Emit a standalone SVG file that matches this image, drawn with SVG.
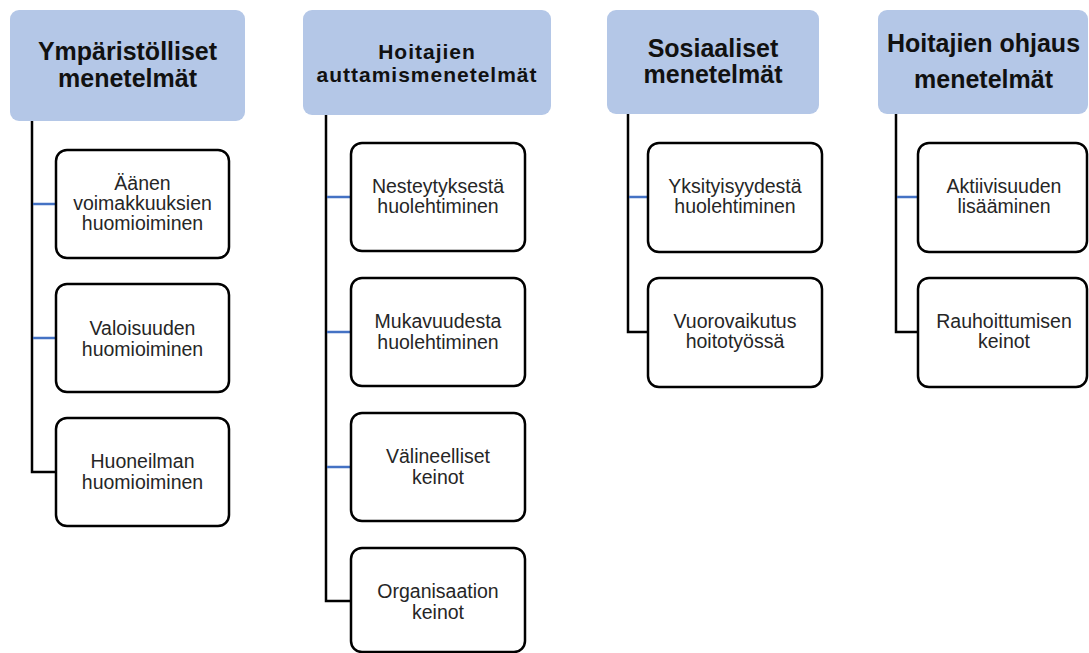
<svg xmlns="http://www.w3.org/2000/svg" width="1089" height="653" viewBox="0 0 1089 653">
<style>
.hdr{fill:#b4c7e7;}
.box{fill:#ffffff;stroke:#000000;stroke-width:2.5;}
.ht{font-family:"Liberation Sans",Arial,sans-serif;font-weight:bold;font-size:25px;fill:#111111;text-anchor:middle;}
.ht2{font-family:"Liberation Sans",Arial,sans-serif;font-weight:bold;font-size:21px;letter-spacing:1px;fill:#111111;text-anchor:middle;}
.ct{font-family:"Liberation Sans",Arial,sans-serif;font-size:19.5px;fill:#262626;text-anchor:middle;}
.trunk{fill:none;stroke:#000000;stroke-width:2.5;}
.stub{stroke:#4472c4;stroke-width:2.5;}
</style>
<rect width="1089" height="653" fill="#ffffff"/>
<g id="connectors">
<path class="trunk" d="M32,121 V472 H56"/>
<line class="stub" x1="33" y1="204" x2="56" y2="204"/>
<line class="stub" x1="33" y1="338" x2="56" y2="338"/>
<path class="trunk" d="M326,115 V601 H351"/>
<line class="stub" x1="327" y1="197" x2="351" y2="197"/>
<line class="stub" x1="327" y1="332" x2="351" y2="332"/>
<line class="stub" x1="327" y1="467" x2="351" y2="467"/>
<path class="trunk" d="M628,114 V332 H648"/>
<line class="stub" x1="629" y1="197" x2="648" y2="197"/>
<path class="trunk" d="M896,114 V332 H918"/>
<line class="stub" x1="897" y1="197" x2="918" y2="197"/>
</g>
<g id="h1"><rect class="hdr" x="10" y="10" width="235" height="111" rx="9"/><text class="ht" x="127.5" y="60">Ympäristölliset</text><text class="ht" x="127.5" y="87">menetelmät</text></g>
<g id="h2"><rect class="hdr" x="303" y="10" width="248" height="105" rx="9"/><text class="ht2" x="427" y="59">Hoitajien</text><text class="ht2" x="427" y="82">auttamismenetelmät</text></g>
<g id="h3"><rect class="hdr" x="607" y="10" width="212" height="104" rx="9"/><text class="ht" x="713" y="57">Sosiaaliset</text><text class="ht" x="713" y="83">menetelmät</text></g>
<g id="h4"><rect class="hdr" x="878" y="10" width="210" height="104" rx="9"/><text class="ht" x="983.5" y="52">Hoitajien ohjaus</text><text class="ht" x="983.5" y="88">menetelmät</text></g>
<g id="c1a"><rect class="box" x="56" y="150" width="173" height="108" rx="11"/><text class="ct" x="142.5" y="190">Äänen</text><text class="ct" x="142.5" y="210">voimakkuuksien</text><text class="ct" x="142.5" y="230">huomioiminen</text></g>
<g id="c1b"><rect class="box" x="56" y="284" width="173" height="108" rx="11"/><text class="ct" x="142.5" y="335">Valoisuuden</text><text class="ct" x="142.5" y="356">huomioiminen</text></g>
<g id="c1c"><rect class="box" x="56" y="418" width="173" height="108" rx="11"/><text class="ct" x="142.5" y="468">Huoneilman</text><text class="ct" x="142.5" y="489">huomioiminen</text></g>
<g id="c2a"><rect class="box" x="351" y="143" width="174" height="108" rx="11"/><text class="ct" x="438" y="193">Nesteytyksestä</text><text class="ct" x="438" y="213">huolehtiminen</text></g>
<g id="c2b"><rect class="box" x="351" y="278" width="174" height="108" rx="11"/><text class="ct" x="438" y="328">Mukavuudesta</text><text class="ct" x="438" y="349">huolehtiminen</text></g>
<g id="c2c"><rect class="box" x="351" y="413" width="174" height="108" rx="11"/><text class="ct" x="438" y="463">Välineelliset</text><text class="ct" x="438" y="484">keinot</text></g>
<g id="c2d"><rect class="box" x="351" y="548" width="174" height="104" rx="11"/><text class="ct" x="438" y="598">Organisaation</text><text class="ct" x="438" y="619">keinot</text></g>
<g id="c3a"><rect class="box" x="648" y="143" width="174" height="109" rx="11"/><text class="ct" x="735" y="193">Yksityisyydestä</text><text class="ct" x="735" y="213">huolehtiminen</text></g>
<g id="c3b"><rect class="box" x="648" y="278" width="174" height="109" rx="11"/><text class="ct" x="735" y="328">Vuorovaikutus</text><text class="ct" x="735" y="348">hoitotyössä</text></g>
<g id="c4a"><rect class="box" x="918" y="143" width="169" height="109" rx="11"/><text class="ct" x="1004" y="193">Aktiivisuuden</text><text class="ct" x="1004" y="213">lisääminen</text></g>
<g id="c4b"><rect class="box" x="918" y="278" width="169" height="109" rx="11"/><text class="ct" x="1004" y="328">Rauhoittumisen</text><text class="ct" x="1004" y="348">keinot</text></g>
</svg>
